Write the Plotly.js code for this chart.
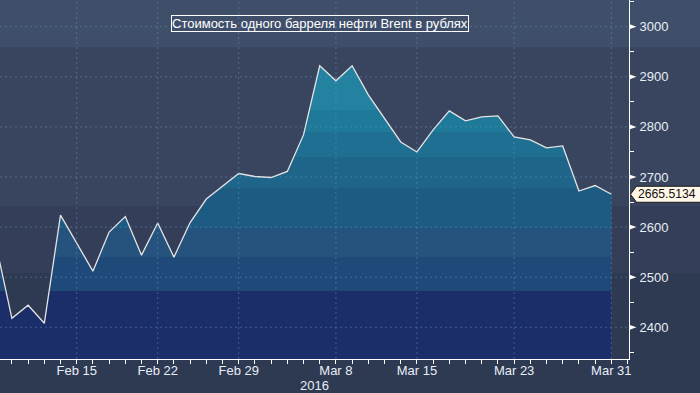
<!DOCTYPE html>
<html>
<head>
<meta charset="utf-8">
<script src="https://cdn.plot.ly/plotly-3.0.1.min.js"></script>
<style>
  html, body { margin: 0; padding: 0; background: #2e3952; }
  #chart { width: 700px; height: 393px; }
</style>
</head>
<body>
<div id="chart"></div>
<script>
// ---- data ----
var dates = ['2016-02-08','2016-02-09','2016-02-10','2016-02-11','2016-02-12',
  '2016-02-16','2016-02-17','2016-02-18','2016-02-19',
  '2016-02-22','2016-02-23','2016-02-24','2016-02-25',
  '2016-02-29','2016-03-01','2016-03-02','2016-03-03','2016-03-04',
  '2016-03-07','2016-03-08','2016-03-09','2016-03-10',
  '2016-03-14','2016-03-15','2016-03-16','2016-03-17','2016-03-18',
  '2016-03-21','2016-03-22','2016-03-23','2016-03-24','2016-03-25',
  '2016-03-28','2016-03-29','2016-03-30','2016-03-31'];
var values = [2567, 2418, 2444, 2408, 2624,
  2512, 2590, 2621, 2544,
  2608, 2540, 2609, 2656,
  2707, 2701, 2699, 2711, 2784,
  2922, 2892, 2922, 2864,
  2770, 2750, 2794, 2832, 2812,
  2820, 2822, 2780, 2774, 2758,
  2762, 2672, 2683, 2665.5134];
var lastLabel = '2665.5134';
var tickDates = ['2016-02-15','2016-02-22','2016-02-29','2016-03-08','2016-03-15','2016-03-23','2016-03-31'];
var tickLabels = ['Feb 15','Feb 22','Feb 29','Mar 8','Mar 15','Mar 23','Mar 31'];
var yTicks = [2400, 2500, 2600, 2700, 2800, 2900, 3000];
var titleText = 'Стоимость одного барреля нефти Brent в рублях';
var yearText = '2016';

// ---- styling ----
var FONT = 'Liberation Sans, Arial, sans-serif';
var yRange = [2336.7, 3053.3];
var xRange = ['2016-02-08 06:22', '2016-04-01 02:11'];
var W = 700, H = 393, M = {l: 0, r: 71, t: 0, b: 34};
var plotW = W - M.l - M.r, plotH = H - M.t - M.b;
var GRID = 'rgba(105,160,210,0.42)';

// stepped fill gradient (bottom -> top)
var gStart = yRange[0], gStop = 2960;
var bandEdges = [2472.5, 2541, 2597.6, 2677.4, 2740.5, 2790.4, 2833.7];
var bandColors = ['#1c2e69', '#1f4979', '#26537e', '#1d5b83', '#1e6589', '#1e6f91', '#1f7999', '#2282a0'];
var cs = [];
var prev = 0;
for (var i = 0; i < bandColors.length; i++) {
  var next = i < bandEdges.length ? (bandEdges[i] - gStart) / (gStop - gStart) : 1;
  cs.push([prev, bandColors[i]]);
  cs.push([next, bandColors[i]]);
  prev = next;
}

var trace = {
  x: dates, y: values, type: 'scatter', mode: 'lines',
  line: {color: '#e4e4e4', width: 1.3},
  fill: 'tozeroy',
  fillgradient: {type: 'vertical', start: gStart, stop: gStop, colorscale: cs},
  hoverinfo: 'skip'
};

function py(v) { return (v - yRange[0]) / (yRange[1] - yRange[0]); }
function px(p) { return p / plotW; }
function pyPix(p) { return 1 - p / plotH; }

var shapes = [];
// background horizontal bands (paper coords, full width)
var bgBands = [[0, 47.7, '#3f4e69'], [47.7, 206.7, '#39455f'], [206.7, 273.3, '#343e58']];
bgBands.forEach(function (b) {
  shapes.push({type: 'rect', xref: 'paper', yref: 'paper', x0: -0.01, x1: 1.2,
    y0: pyPix(b[1]), y1: pyPix(b[0]), fillcolor: b[2], line: {width: 0}, layer: 'below'});
});
// dashed grid drawn above the fill
tickDates.forEach(function (d) {
  shapes.push({type: 'line', xref: 'x', yref: 'paper', x0: d, x1: d, y0: 0, y1: 1,
    line: {color: GRID, width: 1, dash: '2px,3px'}, layer: 'above'});
});
yTicks.forEach(function (v) {
  shapes.push({type: 'line', xref: 'paper', yref: 'y', x0: 0, x1: 1, y0: v, y1: v,
    line: {color: GRID, width: 1, dash: '2px,3px'}, layer: 'above'});
});
// triangular major tick marks on the right axis
yTicks.forEach(function (v) {
  var yc = py(v), h = 2.6 / plotH;
  shapes.push({type: 'path', xref: 'paper', yref: 'paper',
    path: 'M ' + px(plotW) + ' ' + (yc + h) + ' L ' + px(plotW + 7.5) + ' ' + yc + ' L ' + px(plotW) + ' ' + (yc - h) + ' Z',
    fillcolor: '#ffffff', line: {width: 0}, layer: 'above'});
});
// last value callout
(function () {
  var yc = py(values[values.length - 1]), h = 8 / plotH;
  var x0 = px(plotW + 1.5), x1 = px(plotW + 7.5), x2 = px(W + 5);
  shapes.push({type: 'path', xref: 'paper', yref: 'paper',
    path: 'M ' + x0 + ' ' + yc + ' L ' + x1 + ' ' + (yc + h) + ' L ' + x2 + ' ' + (yc + h) +
          ' L ' + x2 + ' ' + (yc - h) + ' L ' + x1 + ' ' + (yc - h) + ' Z',
    fillcolor: '#fff7e8', line: {color: '#1a1a1a', width: 1}, layer: 'above'});
})();

var layout = {
  width: W, height: H, margin: M, autosize: false,
  paper_bgcolor: '#2e3952', plot_bgcolor: 'rgba(0,0,0,0)',
  showlegend: false,
  font: {family: FONT, color: '#e8eef6', size: 13},
  xaxis: {
    type: 'date', range: xRange,
    rangebreaks: [{bounds: ['sat', 'mon']}],
    tickmode: 'array', tickvals: tickDates, ticktext: tickLabels,
    ticks: 'outside', ticklen: 4, tickcolor: '#ffffff', tickwidth: 1,
    ticklabelstandoff: -5,
    showline: true, linecolor: '#ffffff', linewidth: 1,
    showgrid: false,
    minor: {tickmode: 'linear', tick0: '2016-02-01', dtick: 86400000, ticks: 'outside',
            ticklen: 4, tickcolor: '#ffffff', tickwidth: 1, showgrid: false},
    tickfont: {family: FONT, size: 13, color: '#e8eef6'},
    zeroline: false, fixedrange: true
  },
  yaxis: {
    side: 'right', range: yRange,
    tickmode: 'array', tickvals: yTicks,
    ticks: 'outside', ticklen: 7, tickcolor: 'rgba(0,0,0,0)',
    showline: true, linecolor: '#ffffff', linewidth: 1,
    showgrid: false,
    minor: {tickmode: 'linear', tick0: 2350, dtick: 100, ticks: 'outside',
            ticklen: 4, tickcolor: '#ffffff', tickwidth: 1, showgrid: false},
    tickfont: {family: FONT, size: 13, color: '#e8eef6'},
    zeroline: false, fixedrange: true
  },
  shapes: shapes,
  annotations: [
    {text: titleText, xref: 'paper', yref: 'paper', x: 320.3 / plotW, y: pyPix(23.7),
     xanchor: 'center', yanchor: 'middle', showarrow: false,
     font: {family: FONT, size: 13, color: '#ffffff'},
     bordercolor: '#ffffff', borderwidth: 1, borderpad: 0},
    {text: yearText, xref: 'paper', yref: 'paper', x: 0.5, y: pyPix(385),
     xanchor: 'center', yanchor: 'middle', showarrow: false,
     font: {family: FONT, size: 13, color: '#e8eef6'}},
    {text: lastLabel, xref: 'paper', yref: 'paper', x: px(plotW + 7), y: py(values[values.length - 1]),
     xanchor: 'left', yanchor: 'middle', showarrow: false,
     font: {family: FONT, size: 12.2, color: '#111111'}}
  ]
};

Plotly.newPlot('chart', [trace], layout, {displayModeBar: false, staticPlot: true});
</script>
</body>
</html>
